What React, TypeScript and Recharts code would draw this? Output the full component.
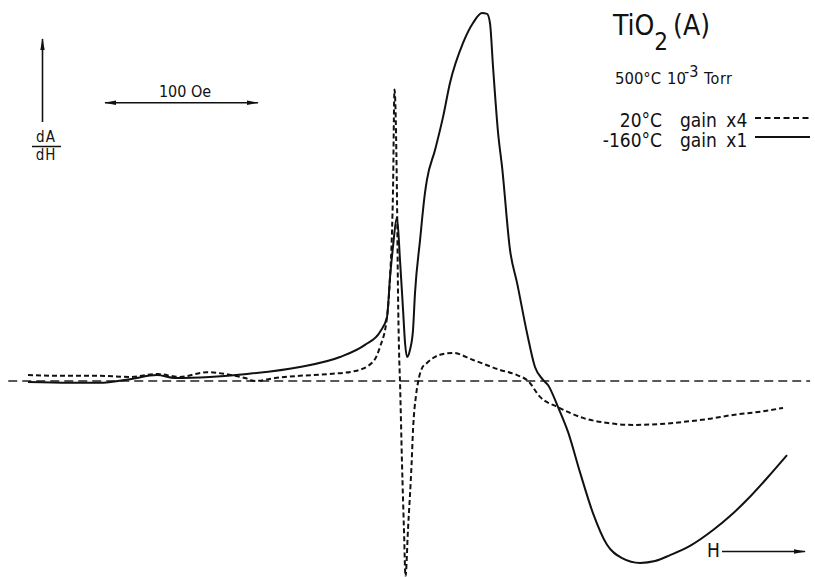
import { LineChart, Line, XAxis, YAxis, ReferenceLine } from "recharts";

// field offset from the resonance centre (Oe)
const coldField = [
  -243.1, -215.7, -196.1, -176.5, -158.8, -147.1, -124.2, -100.0, -65.4, -39.2,
  -22.9, -13.1, -8.5, -6.5, -4.6, -2.0, 0, 2.0, 3.3, 4.6, 6.5, 8.5, 9.8, 13.1,
  16.3, 17.6, 22.9, 28.1, 32.7, 41.2, 47.7, 53.6, 56.9, 58.8, 60.8, 64.1, 66.7,
  71.9, 76.5, 83.0, 88.2, 93.5, 96.7, 103.3, 109.8, 117.6, 126.1, 135.3, 145.1,
  156.9, 166.7, 176.5, 189.5, 204.6, 215.7, 226.8, 239.9, 252.9,
];
// -160°C, gain x1
const coldSignal = [
  -0.3, -0.5, -0.5, 0.5, 1.6, 0.8, 1.1, 1.9, 3.8, 6.5, 9.8, 13.3, 17.3, 28.2,
  36.3, 44.4, 32.8, 19.2, 10.3, 6.5, 8.4, 13.8, 23.8, 38.2, 50.9, 54.5, 62.6,
  71.5, 80.8, 91.6, 97.0, 99.7, 99.5, 97.0, 85.1, 67.2, 58.0, 35.5, 26.6, 13.0,
  3.8, 0.3, -1.1, -7.1, -13.8, -24.7, -35.8, -44.4, -48.0, -49.3, -48.8, -47.2,
  -44.7, -40.4, -36.6, -32.2, -26.3, -20.1,
];

const roomField = [
  -243.1, -222.2, -196.1, -176.5, -158.8, -143.8, -126.1, -114.4, -101.3, -94.8,
  -81.7, -65.4, -45.8, -29.4, -17.6, -13.1, -8.5, -6.5, -5.2, -4.6, -3.6, -2.0,
  -1.3, -0.65, 0, 1.3, 2.6, 3.6, 5.2, 7.6, 8.5, 10.5, 11.8, 14.4, 17.6, 26.1,
  34.6, 47.7, 65.4, 76.5, 83.7, 91.5, 103.3, 119.6, 135.9, 152.3, 168.6, 185.0,
  201.3, 217.6, 234.0, 250.3,
];
// 20°C, gain x4
const roomSignal = [
  1.6, 1.4, 1.4, 1.1, 1.9, 1.1, 2.4, 1.9, 0.8, 0, 0.8, 1.4, 1.9, 2.7, 5.2, 9.2,
  17.3, 28.2, 40.9, 50.9, 79.0, 50.9, 23.8, 8.4, -0.3, -22.2, -40.4, -53.0,
  -40.4, -22.2, -13.3, -3.8, -0.3, 3.5, 4.9, 7.1, 7.6, 5.7, 3.0, 1.6, 0, -4.3,
  -7.1, -10.0, -11.4, -11.9, -11.7, -11.1, -10.3, -9.2, -8.4, -7.3,
];

const toPoints = (h: number[], a: number[]) =>
  h.map((v, i) => ({ h: v, a: a[i] }));

const coldData = toPoints(coldField, coldSignal);
const roomData = toPoints(roomField, roomSignal);

const FONT = "'DejaVu Sans Condensed', 'Liberation Sans Narrow', sans-serif";

export default function App() {
  return (
    <div style={{ position: "absolute", left: 0, top: 0, background: "#fff" }}>
      <LineChart
        width={815}
        height={577}
        margin={{ top: 0, right: 0, bottom: 0, left: 0 }}
      >
        <defs>
          <marker
            id="head"
            viewBox="0 0 12 6"
            refX="11"
            refY="3"
            markerWidth="12"
            markerHeight="6"
            markerUnits="userSpaceOnUse"
            orient="auto-start-reverse"
          >
            <path d="M0,0.8 L12,3 L0,5.2 Z" fill="#111" />
          </marker>
        </defs>
        <XAxis
          hide
          type="number"
          dataKey="h"
          domain={[-261.4, 271.2]}
          allowDataOverflow
        />
        <YAxis hide type="number" domain={[-53.12, 103.25]} allowDataOverflow />
        <ReferenceLine
          segment={[
            { x: -256, y: 0 },
            { x: 268, y: 0 },
          ]}
          stroke="#222"
          strokeWidth={1.3}
          strokeDasharray="9 5"
        />
        <Line
          data={roomData}
          dataKey="a"
          type="monotone"
          stroke="#111"
          strokeWidth={2}
          strokeDasharray="5 3"
          dot={false}
          activeDot={false}
          legendType="none"
          isAnimationActive={false}
        />
        <Line
          data={coldData}
          dataKey="a"
          type="monotone"
          stroke="#111"
          strokeWidth={2}
          dot={false}
          activeDot={false}
          legendType="none"
          isAnimationActive={false}
        />

        {/* amplitude axis arrow and dA/dH label */}
        <line x1={42.5} y1={122} x2={42.5} y2={39} stroke="#111" strokeWidth={1.6} markerEnd="url(#head)" />
        <text x={46} y={142} fontFamily={FONT} fontSize={15} textAnchor="middle" fill="#111" letterSpacing={1}>dA</text>
        <line x1={32} y1={146.5} x2={61} y2={146.5} stroke="#111" strokeWidth={1.5} />
        <text x={46} y={160} fontFamily={FONT} fontSize={15} textAnchor="middle" fill="#111" letterSpacing={1}>dH</text>

        {/* 100 Oe scale bar */}
        <text x={185} y={97} fontFamily={FONT} fontSize={16} textAnchor="middle" fill="#111">100 Oe</text>
        <line x1={105} y1={102.7} x2={258} y2={102.7} stroke="#111" strokeWidth={1.6} markerStart="url(#head)" markerEnd="url(#head)" />

        {/* sample and conditions */}
        <text x={613} y={35} fontFamily={FONT} fontSize={28} fill="#111">
          TiO<tspan dy={15} fontSize={24}>2</tspan>
          <tspan dy={-15} dx={5}>(A)</tspan>
        </text>
        <text x={615} y={84} fontFamily={FONT} fontSize={16.5} fill="#111">500°C</text>
        <text x={667} y={84} fontFamily={FONT} fontSize={16.5} fill="#111">10</text>
        <text x={684} y={77} fontFamily={FONT} fontSize={16} fill="#111">-3</text>
        <text x={704} y={84} fontFamily={FONT} fontSize={16} fill="#111" letterSpacing={0.5}>Torr</text>

        {/* legend */}
        <text x={662} y={127} fontFamily={FONT} fontSize={19} textAnchor="end" fill="#111">20°C</text>
        <text x={680} y={127} fontFamily={FONT} fontSize={19} fill="#111" wordSpacing={4}>gain x4</text>
        <line x1={755} y1={118} x2={812} y2={118} stroke="#111" strokeWidth={1.8} strokeDasharray="6 3.5" />
        <text x={662} y={147} fontFamily={FONT} fontSize={19} textAnchor="end" fill="#111">-160°C</text>
        <text x={680} y={147} fontFamily={FONT} fontSize={19} fill="#111" wordSpacing={4}>gain x1</text>
        <line x1={755} y1={137} x2={810} y2={137} stroke="#111" strokeWidth={1.8} />

        {/* field direction */}
        <text x={707} y={557} fontFamily={FONT} fontSize={19} fill="#111">H</text>
        <line x1={722} y1={551.5} x2={805} y2={551.5} stroke="#111" strokeWidth={1.6} markerEnd="url(#head)" />
      </LineChart>
    </div>
  );
}
